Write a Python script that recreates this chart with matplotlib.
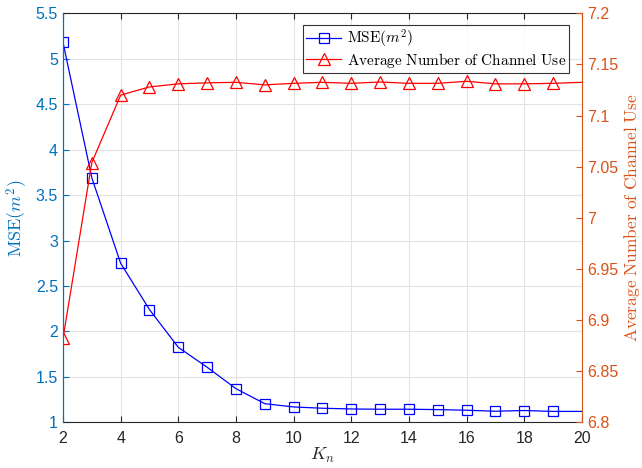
import matplotlib
matplotlib.use('Agg')
import matplotlib.pyplot as plt
import numpy as np

plt.rcParams['mathtext.fontset'] = 'cm'
plt.rcParams['font.family'] = 'Liberation Sans'

# K_n sweep (last point sits just past the x-limit)
kn = [2, 3, 4, 5, 6, 7, 8, 9, 10, 11, 12, 13, 14, 15, 16, 17, 18, 19, 20, 21]
mse = [5.18, 3.69, 2.75, 2.24, 1.825, 1.606, 1.37, 1.205, 1.169, 1.155,
       1.147, 1.144, 1.144, 1.140, 1.133, 1.122, 1.130, 1.120, 1.120, 1.120]
channel_use = [6.882, 7.054, 7.120, 7.128, 7.131, 7.132, 7.1325, 7.130, 7.1315, 7.1325,
               7.1315, 7.1328, 7.1315, 7.1315, 7.1335, 7.131, 7.131, 7.1315, 7.1325, 7.134]

left_color = '#0072BD'
right_color = '#D95319'
axis_gray = '#262626'

fig = plt.figure(figsize=(6.42, 4.68), dpi=100)
ax = fig.add_axes([0.0981, 0.0976, 0.8084, 0.874])
ax2 = ax.twinx()

# markers only on the points that fall inside the plot box
marks = slice(0, 18)
l1, = ax.plot(kn, mse, color='blue', lw=0.9, marker='s', markersize=6.5,
              markerfacecolor='none', markeredgewidth=0.9, markevery=marks,
              label=r'$\mathrm{MSE}(m^2)$')
l2, = ax2.plot(kn, channel_use, color='red', lw=0.9, marker='^', markersize=8,
               markerfacecolor='none', markeredgewidth=0.9, markevery=marks,
               label=r'$\mathrm{Average\ Number\ of\ Channel\ Use}$')
l1.set_clip_path(ax.patch)
l2.set_clip_path(ax.patch)

ax.set_xlim(2, 20)
ax.set_ylim(1, 5.5)
ax2.set_ylim(6.8, 7.2)
ax.set_xticks(np.arange(2, 21, 2))
ax.set_yticks(np.arange(1, 5.51, 0.5))
ax.set_yticklabels(['1', '1.5', '2', '2.5', '3', '3.5', '4', '4.5', '5', '5.5'])
ax2.set_yticks(np.arange(6.8, 7.201, 0.05))
ax2.set_yticklabels(['6.8', '6.85', '6.9', '6.95', '7', '7.05', '7.1', '7.15', '7.2'])

ax.grid(True, color='#E3E3E3', lw=0.8)
ax.set_axisbelow(True)

ax.tick_params(axis='x', direction='in', colors=axis_gray, labelsize=11.5, length=4, top=True, pad=6)
ax.tick_params(axis='y', direction='in', colors=left_color, labelsize=11.5, length=4)
ax2.tick_params(axis='y', direction='in', colors=right_color, labelsize=11.5, length=4)

for s in ['top', 'bottom']:
    ax.spines[s].set_color(axis_gray)
    ax2.spines[s].set_visible(False)
ax.spines['left'].set_color(left_color)
ax2.spines['left'].set_color(left_color)
ax2.spines['right'].set_color(right_color)
ax.spines['right'].set_visible(False)
for a in (ax, ax2):
    for s in a.spines.values():
        s.set_linewidth(0.8)

ax.set_xlabel(r'$K_n$', fontsize=13, color=axis_gray, labelpad=0)
ax.set_ylabel(r'$\mathrm{MSE}(m^2)$', fontsize=13, color=left_color, labelpad=4)
ax2.set_ylabel(r'$\mathrm{Average\ Number\ of\ Channel\ Use}$', fontsize=12.5,
               color=right_color, labelpad=3)

leg = ax2.legend([l1, l2], [l1.get_label(), l2.get_label()], loc='upper right',
                 bbox_to_anchor=(0.975, 0.972), fontsize=11, frameon=True,
                 fancybox=False, edgecolor='black', borderpad=0.2,
                 handlelength=2.3, labelspacing=0.05, borderaxespad=0, handletextpad=0.35)
leg.get_frame().set_linewidth(0.8)

fig.savefig('out.png', dpi=100)
